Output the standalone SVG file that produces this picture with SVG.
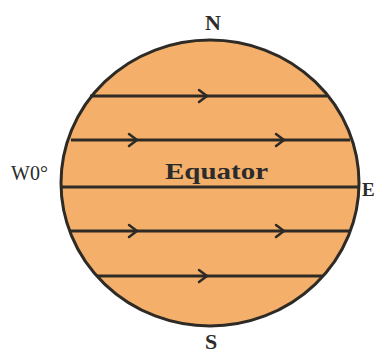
<svg xmlns="http://www.w3.org/2000/svg" width="375" height="354" viewBox="0 0 375 354">
<style>
.lat{stroke:#2e2a26;stroke-width:3;fill:none}
.chev{stroke:#2e2a26;stroke-width:2.5;fill:none;stroke-linecap:round;stroke-linejoin:round}
.lbl{font-family:"Liberation Serif","Times New Roman",serif;fill:#2b2b2b}
.b{font-weight:bold}
</style>
<defs>
<path id="chev" class="chev" d="M-5,-6 L3,0 L-5,6"/>
</defs>
<rect width="375" height="354" fill="#ffffff"/>
<g id="globe">
<ellipse cx="210" cy="183" rx="149" ry="143" fill="#f4b06b" stroke="#2e2a26" stroke-width="3"/>
</g>
<g id="connectors">
<line class="lat" x1="90" y1="96" x2="327" y2="96"/>
<line class="lat" x1="71" y1="140" x2="350" y2="140"/>
<line class="lat" x1="61" y1="187" x2="359" y2="187"/>
<line class="lat" x1="71" y1="231" x2="350" y2="231"/>
<line class="lat" x1="97" y1="276" x2="323" y2="276"/>
<use href="#chev" x="204" y="96"/>
<use href="#chev" x="134" y="140"/>
<use href="#chev" x="281" y="140"/>
<use href="#chev" x="134" y="231"/>
<use href="#chev" x="281" y="231"/>
<use href="#chev" x="204" y="276"/>
</g>
<g id="label-N"><text class="lbl b" x="213" y="30" font-size="22" text-anchor="middle">N</text></g>
<g id="label-S"><text class="lbl b" x="211" y="349" font-size="22" text-anchor="middle">S</text></g>
<g id="label-W"><text class="lbl" x="11" y="180" font-size="20">W0°</text></g>
<g id="label-E"><text class="lbl b" x="362" y="196" font-size="19">E</text></g>
<g id="label-equator"><text class="lbl b" x="165" y="179" font-size="24" textLength="103" lengthAdjust="spacingAndGlyphs">Equator</text></g>
</svg>
